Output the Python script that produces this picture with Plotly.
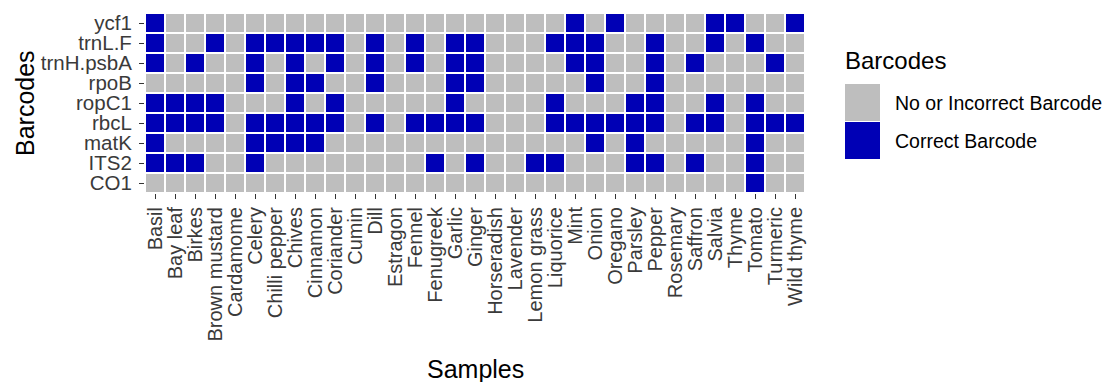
import plotly.graph_objects as go

samples = ["Basil", "Bay leaf", "Birkes", "Brown mustard", "Cardamome", "Celery",
           "Chilli pepper", "Chives", "Cinnamon", "Coriander", "Cumin", "Dill",
           "Estragon", "Fennel", "Fenugreek", "Garlic", "Ginger", "Horseradish",
           "Lavender", "Lemon grass", "Liquorice", "Mint", "Onion", "Oregano",
           "Parsley", "Pepper", "Rosemary", "Saffron", "Salvia", "Thyme", "Tomato",
           "Turmeric", "Wild thyme"]

barcodes = ["CO1", "ITS2", "matK", "rbcL", "ropC1", "rpoB", "trnH.psbA", "trnL.F", "ycf1"]

# 1 = Correct Barcode, 0 = No or Incorrect Barcode (one value per sample)
ycf1      = [1,0,0,0,0,0,0,0,0,0,0,0,0,0,0,0,0,0,0,0,0,1,0,1,0,0,0,0,1,1,0,0,1]
trnL_F    = [1,0,0,1,0,1,1,1,1,1,0,1,0,1,0,1,1,0,0,0,1,1,1,0,0,1,0,0,1,0,1,0,0]
trnH_psbA = [1,0,1,0,0,1,0,1,0,1,0,1,0,1,0,1,1,0,0,0,0,1,1,0,0,1,0,1,0,0,0,1,0]
rpoB      = [0,0,0,0,0,1,0,1,1,0,0,1,0,0,0,1,1,0,0,0,0,0,1,0,0,1,0,0,0,0,0,0,0]
ropC1     = [1,1,1,1,0,0,0,1,0,1,0,0,0,0,0,1,0,0,0,0,1,0,0,0,1,1,0,0,1,0,1,0,0]
rbcL      = [1,1,1,1,0,1,1,1,1,1,0,1,0,1,1,1,1,0,0,0,1,1,1,1,1,1,0,1,1,0,1,1,1]
matK      = [1,0,0,0,0,1,1,1,1,0,0,0,0,0,0,0,0,0,0,0,0,0,1,0,1,0,0,0,0,0,1,0,0]
ITS2      = [1,1,1,0,0,1,0,0,0,0,0,0,0,0,1,0,1,0,0,1,1,0,0,0,1,1,0,1,0,0,1,0,0]
CO1       = [0,0,0,0,0,0,0,0,0,0,0,0,0,0,0,0,0,0,0,0,0,0,0,0,0,0,0,0,0,0,1,0,0]

z = [CO1, ITS2, matK, rbcL, ropC1, rpoB, trnH_psbA, trnL_F, ycf1]

legend_labels = ["No or Incorrect Barcode", "Correct Barcode"]
GREY = "#BEBEBE"
BLUE = "#0000B5"
FONT = "Liberation Sans, Arial, sans-serif"

# page body has an 8px margin; work in screen pixels and compensate
OFF = 8
SW, SH = 1113, 382
W, H = SW - OFF, SH - OFF
PL, PR, PT, PB = 145, 805, 13, 193          # plot area in screen pixels
L, R, T, B = PL - OFF, W - (PR - OFF), PT - OFF, H - (PB - OFF)
PW, PH = PR - PL, PB - PT

def px_x(sx):
    return (sx - PL) / PW

def px_y(sy):
    return 1 - (sy - PT) / PH

fig = go.Figure(go.Heatmap(
    z=z, x=samples, y=barcodes,
    colorscale=[[0, GREY], [0.5, GREY], [0.5, BLUE], [1, BLUE]],
    zmin=0, zmax=1, showscale=False, xgap=2, ygap=2,
    hovertemplate="%{x} / %{y}: %{z}<extra></extra>",
))

fig.update_layout(
    width=W, height=H,
    margin=dict(l=L, r=R, t=T, b=B, pad=0),
    plot_bgcolor="white", paper_bgcolor="white",
    font=dict(family=FONT, color="black"),
    showlegend=False,
)
fig.update_xaxes(
    type="category", tickmode="array", tickvals=samples, ticktext=samples,
    tickangle=-90, showgrid=False, zeroline=False,
    ticks="outside", ticklen=5, tickcolor="#333333", tickwidth=1,
    tickfont=dict(size=20, color="#3a3a3a", family=FONT), automargin=False,
)
fig.update_yaxes(
    type="category", tickmode="array", tickvals=barcodes, ticktext=barcodes,
    showgrid=False, zeroline=False,
    ticks="outside", ticklen=5, tickcolor="#333333", tickwidth=1,
    ticklabelstandoff=3,
    tickfont=dict(size=20.5, color="#3a3a3a", family=FONT), automargin=False,
)

# axis titles
fig.add_annotation(text="Samples", xref="paper", yref="paper", x=0.5, y=px_y(369),
                   showarrow=False, font=dict(size=25, color="black"),
                   xanchor="center", yanchor="middle")
fig.add_annotation(text="Barcodes", xref="paper", yref="paper", x=px_x(25), y=0.5,
                   showarrow=False, font=dict(size=25, color="black"), textangle=-90,
                   xanchor="center", yanchor="middle")

# legend (drawn manually)
fig.add_annotation(text="Barcodes", xref="paper", yref="paper", x=px_x(843), y=px_y(61),
                   showarrow=False, font=dict(size=24, color="black"),
                   xanchor="left", yanchor="middle")
key_tops = [84, 122]
for lab, col, top in zip(legend_labels, [GREY, BLUE], key_tops):
    fig.add_shape(type="rect", xref="paper", yref="paper",
                  x0=px_x(845), x1=px_x(880), y0=px_y(top), y1=px_y(top + 37),
                  fillcolor=col, line=dict(width=0))
    fig.add_annotation(text=lab, xref="paper", yref="paper", x=px_x(893),
                       y=px_y(top + 19), showarrow=False,
                       font=dict(size=19.5, color="black"),
                       xanchor="left", yanchor="middle")

fig.write_html("out.html")
